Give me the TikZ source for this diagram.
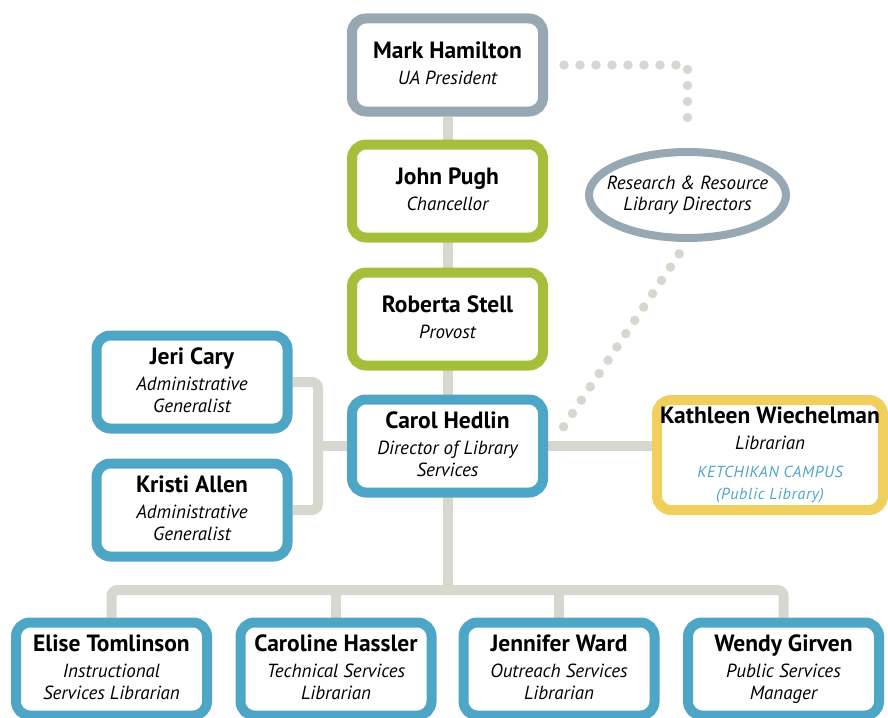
\documentclass[tikz,border=0pt]{standalone}
\usepackage{fontspec}
\setmainfont{PT Sans}
\usetikzlibrary{shapes.geometric,backgrounds}
\definecolor{uagray}{HTML}{98A8B2}
\definecolor{uagreen}{HTML}{A5BF3B}
\definecolor{uablue}{HTML}{4EA6C7}
\definecolor{uayellow}{HTML}{F1CF5C}
\definecolor{linkgray}{HTML}{D6D7CF}
\newcommand{\pname}[1]{{\fontsize{23.5}{27}\selectfont\upshape\bfseries #1}}
\newcommand{\campus}[1]{{\fontsize{16}{17}\selectfont\addfontfeatures{LetterSpace=4}\color{uablue}#1}}
\begin{document}
\begin{tikzpicture}[x=1pt, y=-1pt,
    person/.style={draw=#1, line width=10pt, rounded corners=14pt, fill=white,
        minimum width=191pt, minimum height=93pt, align=center, inner sep=1pt,
        font=\fontsize{19}{22}\selectfont\itshape,
        execute at begin node={\vrule width 0pt height 22pt}, execute at end node={\vrule width 0pt depth 4.5pt}},
    link/.style={draw=linkgray, line width=10pt, rounded corners=6pt},
    dots/.style={draw=linkgray, line width=9.5pt, line cap=round, dash pattern=on 0pt off 16pt}]
    \clip (0,0) rectangle (888,717);
    % chain of command
    \node[person=uagray] (mark) at (447.5,65) {\pname{Mark Hamilton}\\[4pt] UA President};
    \node[person=uagreen] (john) at (447.5,191) {\pname{John Pugh}\\[4pt] Chancellor};
    \node[person=uagreen] (roberta) at (447.5,319) {\pname{Roberta Stell}\\[4pt] Provost};
    \node[person=uablue] (carol) at (447.5,446) {\pname{Carol Hedlin}\\[4pt] Director of Library\\ Services};
    \node[draw=uagray, line width=8pt, ellipse, fill=white, minimum width=197pt, minimum height=86pt,
        align=center, inner xsep=-13pt, inner ysep=8pt, font=\fontsize{19}{21}\selectfont\itshape] (rrld) at (687.5,195)
        {Research \& Resource\\ Library Directors};
    % staff beside the director
    \node[person=uablue] (jeri) at (192,382) {\pname{Jeri Cary}\\[4pt] Administrative\\ Generalist};
    \node[person=uablue] (kristi) at (192,510) {\pname{Kristi Allen}\\[4pt] Administrative\\ Generalist};
    \node[person=uayellow, minimum width=226pt, minimum height=110pt] (kath) at (770,455)
        {\pname{Kathleen Wiechelman}\\[4pt] Librarian\\[6pt] \campus{KETCHIKAN CAMPUS}\\ \campus{(Public Library)}};
    % librarians
    \node[person=uablue] (elise) at (111.5,669) {\pname{Elise Tomlinson}\\[4pt] Instructional\\ Services Librarian};
    \node[person=uablue] (caroline) at (336,669) {\pname{Caroline Hassler}\\[4pt] Technical Services\\ Librarian};
    \node[person=uablue] (jennifer) at (559,669) {\pname{Jennifer Ward}\\[4pt] Outreach Services\\ Librarian};
    \node[person=uablue] (wendy) at (783.5,669) {\pname{Wendy Girven}\\[4pt] Public Services\\ Manager};
    \coordinate (bus) at (447.5,590);
    \coordinate (adm) at (318,446);
    \begin{scope}[on background layer]
        \draw[link] (mark.south) -- (bus);
        \draw[link] (elise.north) |- (bus) -| (wendy.north);
        \draw[link] (caroline.north) -- (caroline.north |- bus);
        \draw[link] (jennifer.north) -- (jennifer.north |- bus);
        \draw[link] (jeri.east) -| (adm) |- (kristi.east);
        \draw[link] (carol.west) -- (adm);
        \draw[link] (carol.east) -- (carol.east -| kath.west);
    \end{scope}
    \draw[dots] ([xshift=16pt]mark.east) -| ([yshift=22pt]rrld.north);
    \draw[dots] ([yshift=-12pt]rrld.-100) -- ([shift={(10pt,11pt)}]carol.east);
\end{tikzpicture}
\end{document}
